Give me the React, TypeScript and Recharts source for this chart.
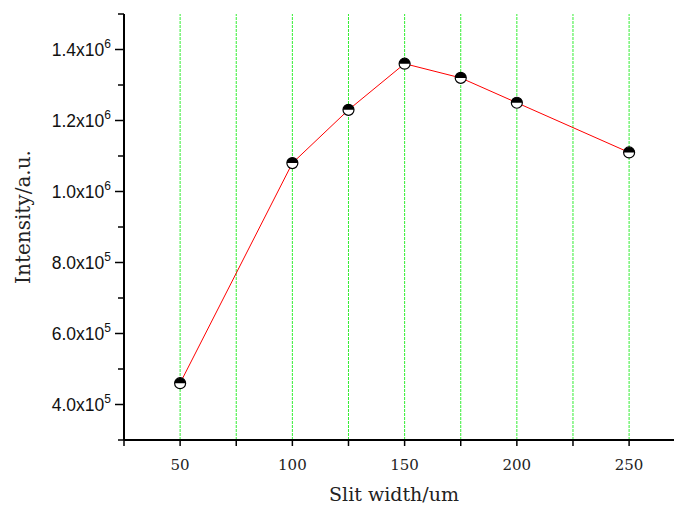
import React from "react";
import { Line, LineChart, ReferenceLine, XAxis, YAxis } from "recharts";

// Slit width (um) vs. intensity (a.u.)
const slitWidths = [50, 100, 125, 150, 175, 200, 250];
const intensities = [4.6e5, 1.08e6, 1.23e6, 1.36e6, 1.32e6, 1.25e6, 1.11e6];

const xTicks = [25, 50, 75, 100, 125, 150, 175, 200, 225, 250];
const xLabelled = [50, 100, 150, 200, 250];
const xGrid = [50, 75, 100, 125, 150, 175, 200, 225, 250];
const yTicks = [3e5, 4e5, 5e5, 6e5, 7e5, 8e5, 9e5, 1e6, 1.1e6, 1.2e6, 1.3e6, 1.4e6, 1.5e6];
const yLabelled = [4e5, 6e5, 8e5, 1e6, 1.2e6, 1.4e6];

const data = slitWidths.map((w, i) => ({ width: w, intensity: intensities[i] }));

const SERIF = "'DejaVu Serif', serif";
const SANS = "'Liberation Sans', Arial, sans-serif";

function sciParts(v: number): [string, number] {
  const exp = Math.floor(Math.log10(v) + 1e-9);
  const mant = v / Math.pow(10, exp);
  return [mant.toFixed(1), exp];
}

function YTick(props: any) {
  const { x, y, payload } = props;
  const v = payload.value as number;
  const major = yLabelled.some((t) => Math.abs(t - v) < 1);
  const [mant, exp] = sciParts(v);
  return (
    <g>
      <line x1={x - (major ? 9 : 6)} x2={x} y1={y} y2={y} stroke="#000" strokeWidth={1.5} />
      {major && (
        <text x={x - 13} y={y + 6} textAnchor="end" fontFamily={SANS} fontSize={17.5} fill="#111">
          {`${mant}x10`}
          <tspan fontSize={12} dy={-8}>
            {exp}
          </tspan>
        </text>
      )}
    </g>
  );
}

function XTick(props: any) {
  const { x, y, payload } = props;
  const v = payload.value as number;
  const labelled = xLabelled.includes(v);
  return (
    <g>
      <line x1={x} x2={x} y1={y} y2={y + 6} stroke="#000" strokeWidth={1.5} />
      {labelled && (
        <text x={x} y={y + 30} textAnchor="middle" fontFamily={SERIF} fontSize={15} fill="#222">
          {v}
        </text>
      )}
    </g>
  );
}

function HalfDot(props: any) {
  const { cx, cy } = props;
  if (cx == null || cy == null) return null;
  const r = 5.5;
  return (
    <g>
      <circle cx={cx} cy={cy} r={r} fill="#fff" stroke="#000" strokeWidth={1.2} />
      <path d={`M ${cx - r} ${cy} A ${r} ${r} 0 0 1 ${cx + r} ${cy} Z`} fill="#000" />
    </g>
  );
}

function YTitle(props: any) {
  const { viewBox } = props;
  const cx = viewBox.x + 23;
  const cy = viewBox.y + viewBox.height / 2 - 10;
  return (
    <text
      x={cx}
      y={cy}
      transform={`rotate(-90, ${cx}, ${cy})`}
      textAnchor="middle"
      dominantBaseline="central"
      fontFamily={SERIF}
      fontSize={20}
      fill="#222"
    >
      Intensity/a.u.
    </text>
  );
}

function XTitle(props: any) {
  const { viewBox } = props;
  const cx = viewBox.x + viewBox.width / 2 - 5;
  return (
    <text x={cx} y={viewBox.y + 61} textAnchor="middle" fontFamily={SERIF} fontSize={19} fill="#222">
      Slit width/um
    </text>
  );
}

export default function App() {
  return (
    <div style={{ position: "absolute", left: 0, top: 0, background: "#fff" }}>
      <LineChart width={674} height={507} data={data} margin={{ top: 14, right: 0, bottom: 0, left: 0 }}>
        {xGrid.map((g) => (
          <ReferenceLine key={g} x={g} stroke="#33ee33" strokeDasharray="3 1" />
        ))}
        <XAxis
          dataKey="width"
          type="number"
          domain={[25, 270]}
          ticks={xTicks}
          allowDataOverflow
          height={67}
          axisLine={{ stroke: "#000", strokeWidth: 2 }}
          tickLine={false}
          tickSize={0}
          tickMargin={0}
          tick={<XTick />}
          interval={0}
          label={{ content: <XTitle /> }}
        />
        <XAxis
          xAxisId="top"
          orientation="top"
          dataKey="width"
          type="number"
          domain={[25, 270]}
          height={0}
          tick={false}
          tickLine={false}
          axisLine={{ stroke: "#000", strokeWidth: 2 }}
        />
        <YAxis
          type="number"
          domain={[3e5, 1.5e6]}
          ticks={yTicks}
          allowDataOverflow
          width={124}
          axisLine={{ stroke: "#000", strokeWidth: 2 }}
          tickLine={false}
          tickSize={0}
          tickMargin={0}
          tick={<YTick />}
          interval={0}
          label={{ content: <YTitle /> }}
        />
        <Line
          dataKey="intensity"
          type="linear"
          stroke="#ff0000"
          strokeWidth={1}
          dot={<HalfDot />}
          activeDot={false}
          isAnimationActive={false}
        />
      </LineChart>
    </div>
  );
}
